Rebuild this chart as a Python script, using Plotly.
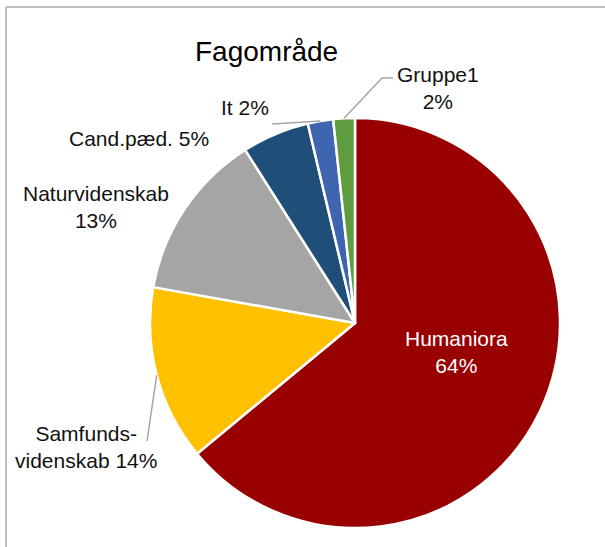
import math
import plotly.graph_objects as go

names = ["Humaniora", "Samfundsvidenskab", "Naturvidenskab", "Cand.pæd.", "It", "Gruppe1"]
values = [64.0, 13.8, 13.2, 5.3, 2.0, 1.7]
label_names = ["Humaniora<br>", "Samfunds-<br>videnskab ", "Naturvidenskab<br>", "Cand.pæd. ", "It ", "Gruppe1<br>"]
colors = ["#990000", "#FFC000", "#A5A5A5", "#1F4E79", "#3F64B0", "#5F9B3F"]

W, H = 605, 547
CX, CY, R = 355, 323, 205
FONT = "Liberation Sans, Arial, sans-serif"


def px(x):
    return x / W


def py(y):
    return 1 - y / H


total = sum(values)
pct = [round(v / total * 100) for v in values]
texts = [f"{n}{p}%" for n, p in zip(label_names, pct)]

# mid angle of each slice (clockwise from 12 o'clock), used for leader lines
mids = []
acc = 0
for v in values:
    mids.append((acc + v / 2) / total * 2 * math.pi)
    acc += v


def edge(i):
    a = mids[i]
    return CX + R * math.sin(a), CY - R * math.cos(a)


fig = go.Figure()
fig.add_trace(
    go.Pie(
        labels=names,
        values=values,
        textinfo="none",
        marker=dict(colors=colors, line=dict(color="white", width=2.5)),
        sort=False,
        direction="clockwise",
        rotation=0,
        showlegend=False,
        hoverinfo="label+percent",
        domain=dict(x=[px(CX - R), px(CX + R)], y=[py(CY + R), py(CY - R)]),
    )
)

# label positions (px)
label_pos = {0: (456, 352), 1: (86, 447), 2: (96, 207), 3: (139, 138), 4: (245, 108), 5: (438, 88)}
annotations = [
    dict(
        text="Fagområde", x=px(266), y=py(51), xref="paper", yref="paper",
        xanchor="center", yanchor="middle",
        showarrow=False, font=dict(size=28, color="black", family=FONT),
    )
]
for i, (x, y) in label_pos.items():
    annotations.append(
        dict(
            text=texts[i], x=px(x), y=py(y), xref="paper", yref="paper",
            xanchor="center", yanchor="middle",
            showarrow=False, align="center",
            font=dict(size=21, color="white" if i == 0 else "#111111", family=FONT),
        )
    )

# leader lines
leaders = {1: [(147, 441)], 4: [(272, 124)], 5: [(382, 78), (393, 78)]}
shapes = []
for i, pts in leaders.items():
    x0, y0 = edge(i)
    path = f"M {px(x0)},{py(y0)} " + " ".join(f"L {px(x)},{py(y)}" for x, y in pts)
    shapes.append(
        dict(type="path", path=path, xref="paper", yref="paper",
             line=dict(color="#A6A6A6", width=1.5))
    )

# chart frame
shapes.append(dict(type="line", xref="paper", yref="paper", x0=px(6), x1=1.2, y0=py(7), y1=py(7),
                   line=dict(color="#BFBFBF", width=2)))
shapes.append(dict(type="line", xref="paper", yref="paper", x0=px(6), x1=px(6), y0=py(7), y1=-0.2,
                   line=dict(color="#BFBFBF", width=2)))

fig.update_layout(
    width=W,
    height=H,
    margin=dict(l=0, r=0, t=0, b=0),
    paper_bgcolor="white",
    plot_bgcolor="white",
    annotations=annotations,
    shapes=shapes,
    font=dict(family=FONT),
)

fig.write_html(
    "out.html",
    config={"displayModeBar": False},
    post_script="document.body.style.margin='0';",
)
